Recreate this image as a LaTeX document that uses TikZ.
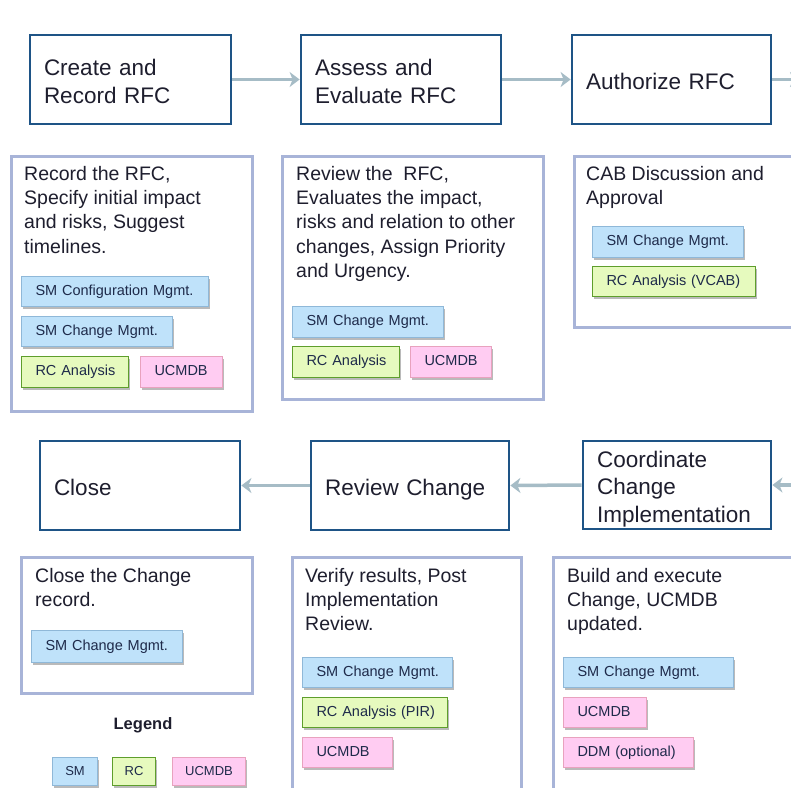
\documentclass[tikz,border=0pt]{standalone}
\usepackage{fontspec}
\setmainfont{Liberation Sans}
\usetikzlibrary{arrows.meta,shadows}
\definecolor{tblue}{HTML}{1E5486}
\definecolor{dborder}{HTML}{A8B4D8}
\definecolor{arrowc}{HTML}{A6BCC6}
\definecolor{smfill}{HTML}{BFE2FA}
\definecolor{smdraw}{HTML}{8FB8D8}
\definecolor{rcfill}{HTML}{E6FABE}
\definecolor{rcdraw}{HTML}{5E9E2C}
\definecolor{ucfill}{HTML}{FFCCF2}
\definecolor{ucdraw}{HTML}{E8A2BE}
\definecolor{txt}{HTML}{1E1E2E}
\definecolor{btxt}{HTML}{1E2A4A}
\newcommand\bt[1]{\mbox{#1}}
\begin{document}
\begin{tikzpicture}[x=1pt,y=-1pt,
  tbox/.style={draw=tblue, line width=2.8pt, rectangle, inner xsep=14pt, inner ysep=0pt,
     align=left, text=txt, font=\fontsize{22.5}{28}\selectfont},
  one/.style={text height=20.5pt, text depth=0pt},
  tw/.style={minimum width=#1pt, text width=\the\dimexpr#1pt-28pt\relax},
  dbox/.style={draw=dborder, line width=2.5pt, rectangle, anchor=north west, inner sep=0pt},
  dtext/.style={anchor=north west, inner sep=0pt, align=left, text=txt, font=\fontsize{19.5}{24.3}\selectfont},
  badge/.style={rectangle, line width=1pt, anchor=north west, inner xsep=14pt, inner ysep=0pt,
     align=left, text=btxt, font=\fontsize{14.5}{17}\selectfont, text height=10.5pt, text depth=3pt,
     drop shadow={shadow xshift=1.5pt, shadow yshift=-2pt, fill=black!45, opacity=0.6}},
  bw/.style={minimum width=#1pt, text width=\the\dimexpr#1pt-28pt\relax},
  sm/.style={badge, fill=smfill, draw=smdraw},
  rc/.style={badge, fill=rcfill, draw=rcdraw},
  uc/.style={badge, fill=ucfill, draw=ucdraw},
  lg/.style={rectangle, line width=1pt, anchor=north west, inner sep=0pt, text=btxt,
     font=\fontsize{13}{15}\selectfont, minimum height=28pt,
     drop shadow={shadow xshift=1.5pt, shadow yshift=-2pt, fill=black!45, opacity=0.6}},
  flow/.style={draw=arrowc, line width=3.5pt, -{Stealth[length=10pt, width=15pt, inset=3pt]}}
]
\useasboundingbox[fill=white] (0,0) rectangle (791,787);

% top row process boxes
\node[tbox, tw=201, minimum height=89pt, text height=20.5pt] (t1) at (130.5,79.5) {Create and\\Record RFC};
\node[tbox, tw=200, minimum height=89pt, text height=20.5pt] (t2) at (401,79.5) {Assess and\\Evaluate RFC};
\node[tbox, tw=199, minimum height=89pt, one] (t3) at (671.5,79.5) {Authorize RFC};
\coordinate (tout) at (800,79.5);

\draw[flow] (t1.east) -- (t2.west);
\draw[flow] (t2.east) -- (t3.west);
\draw[flow] (t3.east) -- (tout);

% bottom row process boxes
\node[tbox, tw=200, minimum height=89pt, one] (b1) at (140,485.5) {Close};
\node[tbox, tw=198, minimum height=89pt, one] (b2) at (410,485.5) {Review Change};
\node[tbox, tw=188, minimum height=88pt, font=\fontsize{22.5}{27.2}\selectfont, text height=24.5pt] (b3) at (677,485) {Coordinate\\Change\\Implementation};
\coordinate (bin) at (800,485);

\draw[flow] (bin) -- (b3.east);
\draw[flow] (b3.west) -- (b2.east);
\draw[flow] (b2.west) -- (b1.east);

% description boxes top
\node[dbox, minimum width=241pt, minimum height=255pt] (dA) at (10,155) {};
\node[dtext] (xA) at (24,166) {Record the RFC,\\Specify initial impact\\and risks, Suggest\\timelines.};
\node[sm, bw=187, minimum height=30pt] (a1) at (21,276) {\bt{SM Configuration Mgmt.}};
\node[sm, bw=151, minimum height=30pt] (a2) at (21,316) {\bt{SM Change Mgmt.}};
\node[rc, bw=107, minimum height=31pt] (a3) at (21,356) {\bt{RC Analysis}};
\node[uc, bw=82, minimum height=31pt] (a4) at (140,356) {\bt{UCMDB}};

\node[dbox, minimum width=261pt, minimum height=243pt] (dB) at (281,155) {};
\node[dtext] (xB) at (296,166) {Review the\ \ RFC,\\Evaluates the impact,\\risks and relation to other\\changes, Assign Priority\\and Urgency.};
\node[sm, bw=151, minimum height=31pt] (b1s) at (292,306) {\bt{SM Change Mgmt.}};
\node[rc, bw=107, minimum height=31pt] (b1r) at (292,346) {\bt{RC Analysis}};
\node[uc, bw=81, minimum height=31pt] (b1u) at (410,346) {\bt{UCMDB}};

\node[dbox, minimum width=240pt, minimum height=171pt] (dC) at (573,155) {};
\node[dtext] (xC) at (586,166) {CAB Discussion and\\Approval};
\node[sm, bw=151, minimum height=31pt] (c1) at (592,226) {\bt{SM Change Mgmt.}};
\node[rc, bw=163, minimum height=30pt] (c2) at (592,266) {\bt{RC Analysis (VCAB)}};

% description boxes bottom
\node[dbox, minimum width=231pt, minimum height=136pt] (dD) at (20,556) {};
\node[dtext] (xD) at (35,568) {Close the Change\\record.};
\node[sm, bw=151, minimum height=32pt] (d1) at (31,630) {\bt{SM Change Mgmt.}};

\node[dbox, minimum width=229pt, minimum height=250pt] (dE) at (291,556) {};
\node[dtext] (xE) at (305,568) {Verify results, Post\\Implementation\\Review.};
\node[sm, bw=150, minimum height=30pt] (e1) at (302,657) {\bt{SM Change Mgmt.}};
\node[rc, bw=145, minimum height=30pt] (e2) at (302,697) {\bt{RC Analysis (PIR)}};
\node[uc, bw=90, minimum height=30pt] (e3) at (302,737) {\bt{UCMDB}};

\node[dbox, minimum width=260pt, minimum height=250pt] (dF) at (552,556) {};
\node[dtext] (xF) at (567,568) {Build and execute\\Change, UCMDB\\updated.};
\node[sm, bw=170, minimum height=30pt] (f1) at (563,657) {\bt{SM Change Mgmt.}};
\node[uc, bw=83, minimum height=30pt] (f2) at (563,697) {\bt{UCMDB}};
\node[uc, bw=130, minimum height=30pt] (f3) at (563,737) {\bt{DDM (optional)}};

% legend
\node[text=txt, font=\fontsize{16.5}{19}\selectfont\bfseries] (lgt) at (143,725) {Legend};
\node[lg, fill=smfill, draw=smdraw, minimum width=45pt] (l1) at (52,757) {SM};
\node[lg, fill=rcfill, draw=rcdraw, minimum width=43pt] (l2) at (112,757) {RC};
\node[lg, fill=ucfill, draw=ucdraw, minimum width=73pt] (l3) at (172,757) {UCMDB};
\end{tikzpicture}
\end{document}
